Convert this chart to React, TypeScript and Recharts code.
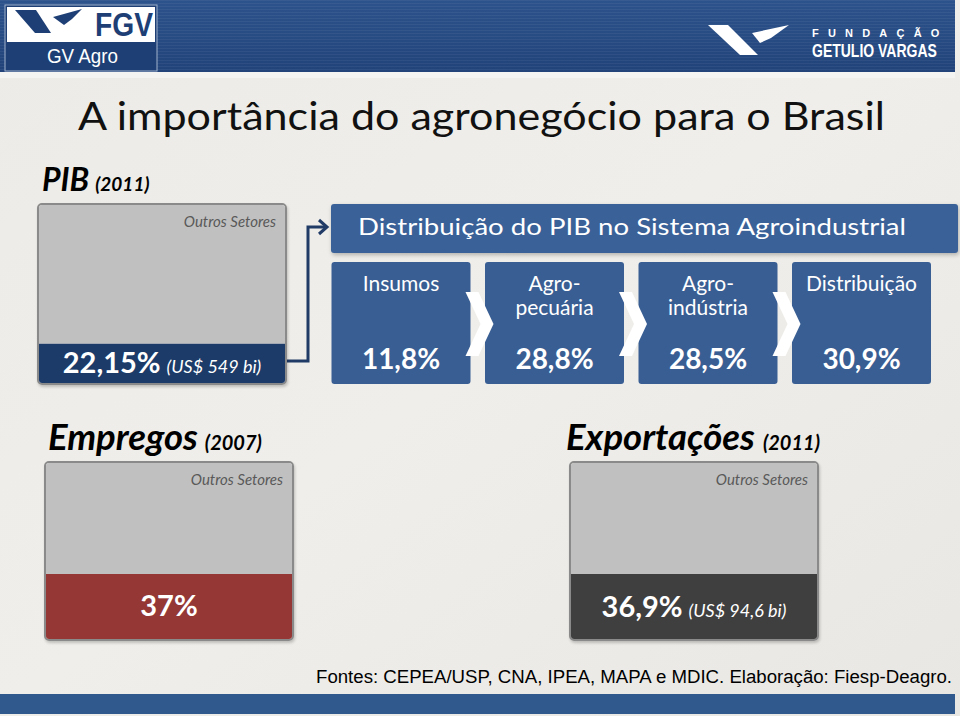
import React from "react";
import { Bar, BarChart, LabelList, XAxis, YAxis } from "recharts";

// dados do slide
const sectors = ["PIB", "Empregos", "Exportações"];
const sectorYears = ["(2011)", "(2007)", "(2011)"];
const agroShare = [22.15, 37, 36.9];
const otherShare = [77.85, 63, 63.1];
const agroAmount = ["(US$ 549 bi)", "", "(US$ 94,6 bi)"];
const otherLabel = "Outros Setores";

const stages = ["Insumos", "Agro-\npecuária", "Agro-\nindústria", "Distribuição"];
const stageShare = [11.8, 28.8, 28.5, 30.9];

const FONT = "Lato, 'Open Sans', sans-serif";
const boxBlue = "#395e93";
const fmt = (v: number) => String(v).replace(".", ",") + "%";

function ShareBox({
  i,
  left,
  top,
  width,
  height,
  color,
}: {
  i: number;
  left: number;
  top: number;
  width: number;
  height: number;
  color: string;
}) {
  const data = [{ name: sectors[i], agro: agroShare[i], outros: otherShare[i] }];
  const amount = agroAmount[i];
  return (
    <div
      style={{
        position: "absolute",
        left,
        top,
        width,
        height,
        border: "2px solid #8a8a8a",
        borderRadius: 5,
        overflow: "hidden",
        boxShadow: "1px 2px 3px rgba(0,0,0,0.2)",
      }}
    >
      <BarChart
        width={width}
        height={height}
        data={data}
        margin={{ top: 0, right: 0, bottom: 0, left: 0 }}
        barCategoryGap={0}
      >
        <XAxis dataKey="name" hide />
        <YAxis hide domain={[0, 100]} />
        <Bar dataKey="agro" stackId="s" fill={color} isAnimationActive={false}>
          <LabelList
            dataKey="agro"
            content={(p: any) => (
              <text
                x={Number(p.x) + Number(p.width) / 2}
                y={Number(p.y) + Number(p.height) / 2 + 10}
                textAnchor="middle"
                fill="#fff"
                fontFamily={FONT}
              >
                <tspan fontWeight={700} fontSize={29}>
                  {fmt(Number(p.value))}
                </tspan>
                {amount ? (
                  <tspan fontStyle="italic" fontSize={18} dx={6}>
                    {amount}
                  </tspan>
                ) : null}
              </text>
            )}
          />
        </Bar>
        <Bar dataKey="outros" stackId="s" fill="#c0c0c0" isAnimationActive={false}>
          <LabelList
            dataKey="outros"
            content={(p: any) => (
              <text
                x={Number(p.x) + Number(p.width) - 9}
                y={Number(p.y) + 22}
                textAnchor="end"
                fill="#595959"
                fontFamily={FONT}
                fontStyle="italic"
                fontSize={15}
              >
                {otherLabel}
              </text>
            )}
          />
        </Bar>
      </BarChart>
    </div>
  );
}

// seta branca entre as etapas (desenhada por cima das caixas)
function Chevron(p: any) {
  const R = Number(p.x) + Number(p.width);
  if (p.index >= stages.length - 1) return <g />;
  const pts = [
    [R - 5, 30],
    [R + 8, 30],
    [R + 23, 62],
    [R + 8, 94],
    [R - 5, 94],
    [R + 10, 62],
  ]
    .map((q) => q.join(","))
    .join(" ");
  return <polygon points={pts} fill="#ffffff" />;
}

function ChainChart() {
  const data = stages.map((s, k) => ({ stage: s, share: stageShare[k] }));
  return (
    <div style={{ position: "absolute", left: 324, top: 262 }}>
      <BarChart
        width={614}
        height={122}
        data={data}
        margin={{ top: 0, right: 0, bottom: 0, left: 0 }}
        barCategoryGap={7.5}
      >
        <XAxis dataKey="stage" hide />
        <YAxis hide domain={[0, 100]} />
        <Bar
          dataKey="share"
          isAnimationActive={false}
          background={{ fill: boxBlue, radius: 3 } as any}
          shape={() => <g />}
        >
          <LabelList dataKey="share" content={(p: any) => <Chevron {...p} />} />
          <LabelList
            dataKey="stage"
            content={(p: any) => {
              const cx = Number(p.x) + Number(p.width) / 2;
              const lines = String(p.value).split("\n");
              return (
                <text textAnchor="middle" fill="#fff" fontFamily={FONT} fontSize={21}>
                  {lines.map((l, k) => (
                    <tspan key={k} x={cx} y={lines.length > 1 ? 29 + k * 24 : 29}>
                      {l}
                    </tspan>
                  ))}
                </text>
              );
            }}
          />
          <LabelList
            dataKey="share"
            content={(p: any) => (
              <text
                x={Number(p.x) + Number(p.width) / 2}
                y={107}
                textAnchor="middle"
                fill="#fff"
                fontFamily={FONT}
                fontWeight={700}
                fontSize={28}
              >
                {fmt(Number(p.value))}
              </text>
            )}
          />
        </Bar>
      </BarChart>
    </div>
  );
}

function Backdrop() {
  return (
    <svg width={960} height={716} style={{ position: "absolute", left: 0, top: 0 }}>
      <defs>
        <linearGradient id="hdr" x1="0" y1="0" x2="0" y2="1">
          <stop offset="0%" stopColor="#2d538c" />
          <stop offset="100%" stopColor="#21437a" />
        </linearGradient>
        <pattern id="stripes" width="4" height="3" patternUnits="userSpaceOnUse">
          <rect width="4" height="1" fill="#ffffff" fillOpacity={0.05} />
        </pattern>
        <linearGradient id="bg" x1="0" y1="0" x2="1" y2="1">
          <stop offset="0%" stopColor="#ecebe7" />
          <stop offset="50%" stopColor="#efeeea" />
          <stop offset="100%" stopColor="#e9e7e3" />
        </linearGradient>
      </defs>
      <rect width={960} height={716} fill="url(#bg)" />
      {/* faixa superior */}
      <rect x={0} y={0} width={955} height={72} fill="url(#hdr)" />
      <rect x={0} y={0} width={955} height={72} fill="url(#stripes)" />
      <rect x={0} y={72} width={955} height={6} fill="#f4f4f3" />
      {/* logo GV Agro */}
      <rect x={5} y={5} width={152} height={66} fill="#1e3f75" stroke="#9fb2cc" strokeWidth={1} />
      <rect x={7} y={7} width={148} height={35} fill="#ffffff" />
      <polygon points="15,10 36,10 51,33 35,33" fill="#1e3f75" />
      <polygon points="53,17 82,9 72,19 64,25" fill="#1e3f75" />
      <text x={95} y={36} fontFamily="'Liberation Sans', Arial" fontWeight={700} fontSize={33} fill="#1e3f75" textLength={58} lengthAdjust="spacingAndGlyphs">
        FGV
      </text>
      <text x={47} y={63} fontFamily="'Liberation Sans', Arial" fontSize={21} fill="#ffffff" textLength={71} lengthAdjust="spacingAndGlyphs">
        GV Agro
      </text>
      {/* logo FGV direita */}
      <polygon points="708,25 728,25 758,55 740,55" fill="#ffffff" />
      <polygon points="752,33 789,25 771,38 760,43" fill="#ffffff" />
      <text x={812} y={37} fontFamily="'Liberation Sans', Arial" fontWeight={700} fontSize={11} fill="#ffffff" letterSpacing={9.2}>
        FUNDAÇÃO
      </text>
      <text
        transform="translate(812,57) scale(1,1.3)"
        x={0}
        y={0}
        fontFamily="'Liberation Sans', Arial"
        fontWeight={700}
        fontSize={14}
        fill="#ffffff"
      >
        GETULIO VARGAS
      </text>
      {/* título */}
      <text x={78} y={130} fontFamily={FONT} fontSize={38} fill="#111111" textLength={807} lengthAdjust="spacingAndGlyphs">
        A importância do agronegócio para o Brasil
      </text>
      {/* cabeçalhos */}
      <text x={42} y={191} fontFamily={FONT} fontWeight={700} fontStyle="italic" fill="#000">
        <tspan fontSize={32}>{sectors[0]}</tspan>
        <tspan fontSize={19} dx={6}>{sectorYears[0]}</tspan>
      </text>
      <text x={48} y={450} fontFamily={FONT} fontWeight={700} fontStyle="italic" fill="#000">
        <tspan fontSize={36.5}>{sectors[1]}</tspan>
        <tspan fontSize={20} dx={7}>{sectorYears[1]}</tspan>
      </text>
      <text x={566} y={450} fontFamily={FONT} fontWeight={700} fontStyle="italic" fill="#000">
        <tspan fontSize={36.5}>{sectors[2]}</tspan>
        <tspan fontSize={20} dx={8}>{sectorYears[2]}</tspan>
      </text>
      {/* seta do PIB para a distribuição */}
      <polyline points="287,361 308,361 308,227 326,227" fill="none" stroke="#1f3b66" strokeWidth={3} />
      <polyline points="319,220 327,227 319,234" fill="none" stroke="#1f3b66" strokeWidth={3} />
      {/* caixa título da distribuição */}
      <rect x={331} y={204} width={627} height={49} rx={3} fill="#3a6198" style={{ filter: "drop-shadow(1px 2px 2px rgba(0,0,0,0.25))" }} />
      <text x={358} y={235} fontFamily={FONT} fontSize={23} fill="#ffffff" textLength={548} lengthAdjust="spacingAndGlyphs">
        Distribuição do PIB no Sistema Agroindustrial
      </text>
      {/* fonte */}
      <text x={316} y={683} fontFamily="'Liberation Sans', Arial" fontSize={18} fill="#000" textLength={636} lengthAdjust="spacingAndGlyphs">
        Fontes: CEPEA/USP, CNA, IPEA, MAPA e MDIC. Elaboração: Fiesp-Deagro.
      </text>
      {/* faixa inferior */}
      <rect x={0} y={694} width={955} height={20} fill="#305a8e" />
    </svg>
  );
}

export default function App() {
  return (
    <div style={{ position: "relative", width: 960, height: 716, overflow: "hidden" }}>
      <style>{`body{margin:0}`}</style>
      <Backdrop />
      <ShareBox i={0} left={37} top={203} width={246} height={178} color="#1c3b69" />
      <ChainChart />
      <ShareBox i={1} left={44} top={461} width={246} height={176} color="#953735" />
      <ShareBox i={2} left={569} top={461} width={246} height={176} color="#3f3f3f" />
    </div>
  );
}
